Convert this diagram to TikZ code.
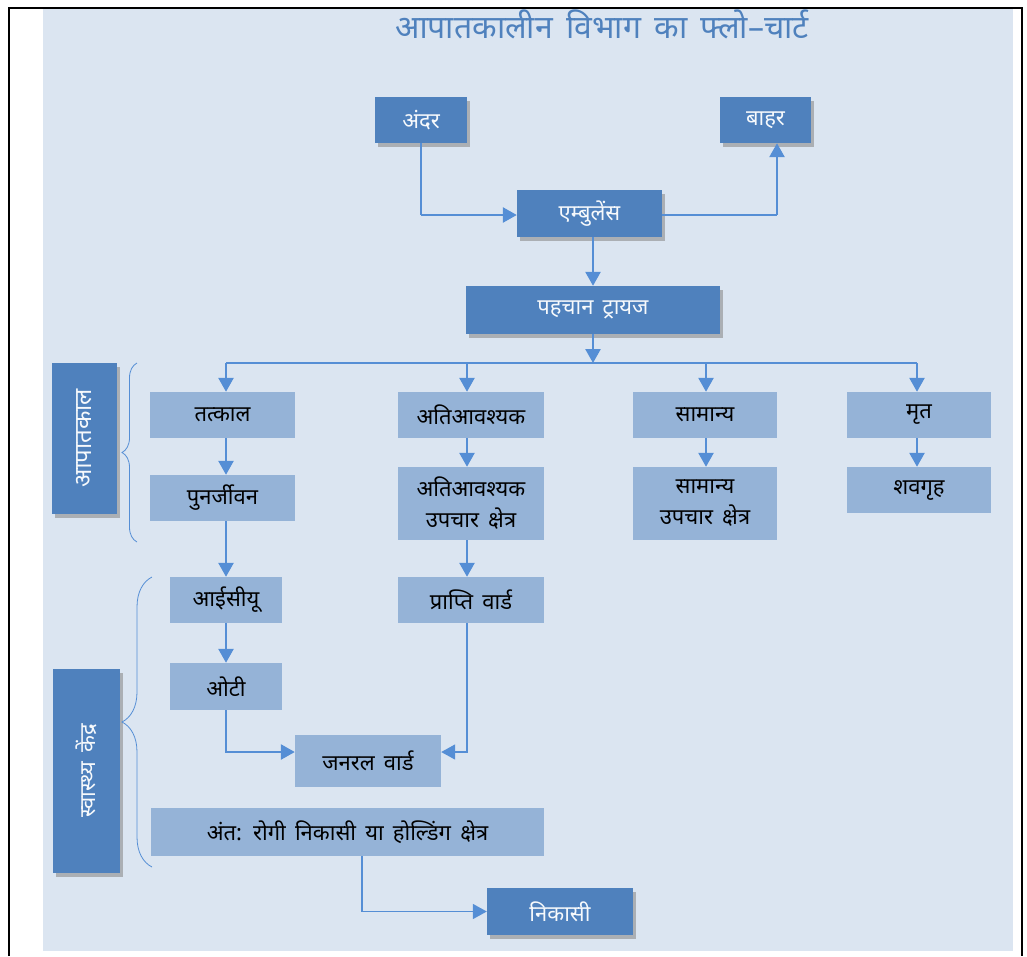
\documentclass[tikz,border=0pt]{standalone}
\usepackage{fontspec}
\setmainfont[Script=Devanagari]{Noto Sans}
\newfontfamily\dev[Script=Devanagari, WordSpace=1.9]{Noto Sans}
\newfontfamily\titlefont[Script=Devanagari, WordSpace=1.6]{Noto Sans}
\usetikzlibrary{arrows.meta,shadows,decorations.pathreplacing,calc}
\definecolor{panel}{HTML}{DBE5F1}
\definecolor{darkb}{HTML}{4F81BD}
\definecolor{lightb}{HTML}{95B3D7}
\definecolor{arrowc}{HTML}{558ED5}
\definecolor{titlec}{HTML}{4F81BD}
\tikzset{
  darkbox/.style={fill=darkb, draw=none, inner sep=0pt, text=white!95!darkb, font=\dev\fontsize{22}{26}\selectfont, align=center,
    drop shadow={shadow xshift=3pt, shadow yshift=-4pt, fill=black!45, opacity=0.6}},
  lightbox/.style={fill=lightb, draw=none, inner sep=0pt, text=black, font=\dev\fontsize{22}{31}\selectfont, align=center},
  sidebox/.style={fill=darkb, draw=none, inner sep=0pt, text=white!95!darkb,
    drop shadow={shadow xshift=3pt, shadow yshift=-4pt, fill=black!45, opacity=0.6}},
  arr/.style={draw=arrowc, line width=2.6pt, -{Triangle[width=15pt,length=14pt]}},
  thinarr/.style={draw=arrowc, line width=1.6pt, -{Triangle[width=15pt,length=14pt]}},
  conn/.style={draw=arrowc, line width=1.6pt},
  bracestyle/.style={draw=arrowc, line width=0.8pt, decorate},
}
\begin{document}
\begin{tikzpicture}[x=1pt,y=-1pt]
\useasboundingbox (0,0) rectangle (1027,956);
\fill[white] (0,0) rectangle (1027,956);
\fill[panel] (43,9) rectangle (1013,951);
\draw[black, line width=2pt] (9,956) -- (9,8) -- (1022,8) -- (1022,956);

\node[text=titlec, font=\titlefont\fontsize{32}{36}\selectfont] (title) at (602,24) {आपातकालीन विभाग का फ्लो–चार्ट};

% top row
\node[darkbox, minimum width=92pt, minimum height=46pt] (in) at (421,120) {अंदर};
\node[darkbox, minimum width=91pt, minimum height=46pt] (out) at (765.5,120) {बाहर};
\node[darkbox, minimum width=145pt, minimum height=47pt] (amb) at (589.5,213.5) {एम्बुलेंस};
\node[darkbox, minimum width=254pt, minimum height=48pt] (tri) at (593,310) {पहचान ट्रायज};

% categories
\node[lightbox, minimum width=145pt, minimum height=46pt] (tat) at (222.5,415) {तत्काल};
\node[lightbox, minimum width=145pt, minimum height=46pt] (pun) at (222.5,498) {पुनर्जीवन};
\node[lightbox, minimum width=146pt, minimum height=46pt] (ati) at (471,415) {अतिआवश्यक};
\node[lightbox, minimum width=146pt, minimum height=73pt] (atiu) at (471,503.5) {अतिआवश्यक\\उपचार क्षेत्र};
\node[lightbox, minimum width=144pt, minimum height=46pt] (sam) at (705,415) {सामान्य};
\node[lightbox, minimum width=144pt, minimum height=73pt] (samu) at (705,503.5) {सामान्य\\उपचार क्षेत्र};
\node[lightbox, minimum width=144pt, minimum height=46pt] (mrt) at (919,415) {मृत};
\node[lightbox, minimum width=144pt, minimum height=46pt] (shav) at (919,490) {शवगृह};

% lower part
\node[lightbox, minimum width=112pt, minimum height=46pt] (icu) at (226,600) {आईसीयू};
\node[lightbox, minimum width=112pt, minimum height=47pt] (ot) at (226,686.5) {ओटी};
\node[lightbox, minimum width=146pt, minimum height=46pt] (prap) at (471,600) {प्राप्ति वार्ड};
\node[lightbox, minimum width=146pt, minimum height=52pt] (gen) at (368,761) {जनरल वार्ड};
\node[lightbox, minimum width=393pt, minimum height=48pt] (ant) at (347.5,832) {अंत: रोगी निकासी या होल्डिंग क्षेत्र};
\node[darkbox, minimum width=146pt, minimum height=47pt] (nik) at (560,911.5) {निकासी};

% side labels
\node[sidebox, minimum width=151pt, minimum height=65pt, rotate=90, font=\dev\fontsize{24}{26}\selectfont] (apat) at (84.5,438.5) {आपातकाल};
\node[sidebox, minimum width=204pt, minimum height=67pt, rotate=90, font=\dev\fontsize{22}{24}\selectfont] (swas) at (86.5,771) {स्वास्थ्य केंद्र};

% braces
\draw[bracestyle, decoration={brace, amplitude=15pt}] (137,542) -- (137,363);
\draw[bracestyle, decoration={brace, amplitude=30pt}] (152,867) -- (152,577);

% connectors
\coordinate (c1) at (421,215);
\draw[conn] (in.south) -- (c1);
\draw[arr] (c1) -- (c1 -| amb.west);
\coordinate (c2) at (777,215);
\draw[conn] (c2 -| amb.east) -- (c2);
\draw[arr] (c2) -- (c2 |- out.south);
\draw[arr] (amb.south -| tri.north) -- (tri.north);
\coordinate (hub) at (593,363);
\coordinate (b1) at (226,363);
\coordinate (b2) at (467,363);
\coordinate (b3) at (706,363);
\coordinate (b4) at (917,363);
\draw[arr] (tri.south) -- (hub);
\draw[conn, line width=1.4pt] (b1) -- (b4);
\draw[arr] (b1) -- (b1 |- tat.north);
\draw[arr] (b2) -- (b2 |- ati.north);
\draw[arr] (b3) -- (b3 |- sam.north);
\draw[arr] (b4) -- (b4 |- mrt.north);
\draw[arr] (b1 |- tat.south) -- (b1 |- pun.north);
\draw[arr] (b2 |- ati.south) -- (b2 |- atiu.north);
\draw[arr] (b3 |- sam.south) -- (b3 |- samu.north);
\draw[arr] (b4 |- mrt.south) -- (b4 |- shav.north);
\draw[arr] (b1 |- pun.south) -- (b1 |- icu.north);
\draw[arr] (b2 |- atiu.south) -- (b2 |- prap.north);
\draw[arr] (b1 |- icu.south) -- (b1 |- ot.north);
\coordinate (gj) at (0,752);
\draw[arr] (b1 |- ot.south) |- (gen.west |- gj);
\draw[thinarr] (b2 |- prap.south) |- (gen.east |- gj);
\coordinate (nj) at (362,0);
\draw[thinarr] (nj |- ant.south) |- (nik.west);
\end{tikzpicture}
\end{document}
